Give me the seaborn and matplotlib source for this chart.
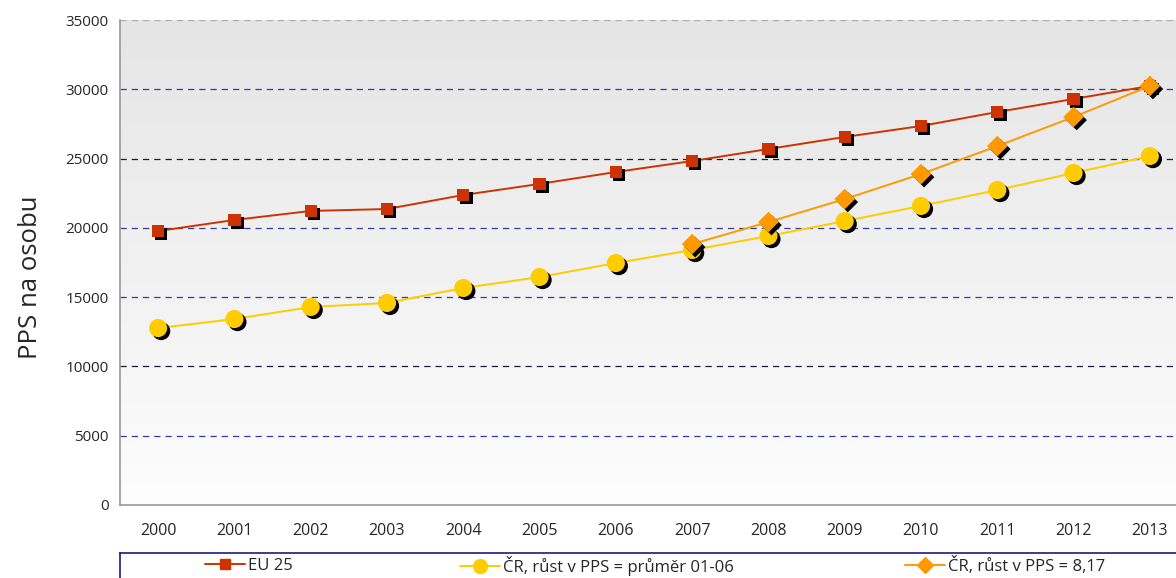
import matplotlib
matplotlib.use("Agg")
import matplotlib.pyplot as plt
import matplotlib.patheffects as pe
from matplotlib.colors import LinearSegmentedColormap
from matplotlib.lines import Line2D
import numpy as np
import pandas as pd
import seaborn as sns

years = [str(y) for y in range(2000, 2014)]
eu25 = [19770, 20570, 21220, 21360, 22370, 23170, 24030, 24820, 25690, 26560, 27350, 28360, 29300, 30240]
cr_avg = [12770, 13420, 14290, 14580, 15660, 16450, 17460, 18400, 19410, 20490, 21580, 22730, 23960, 25180]
cr_817_years = years[7:]
cr_817 = [18830, 20420, 22080, 23880, 25900, 28000, 30240]

labels = ["EU 25", "ČR, růst v PPS = průměr 01-06", "ČR, růst v PPS = 8,17"]
colors = ["#CC3300", "#FFCC00", "#FF9900"]

df_eu = pd.DataFrame({"rok": years, "hodnota": eu25})
df_avg = pd.DataFrame({"rok": years, "hodnota": cr_avg})
df_817 = pd.DataFrame({"rok": cr_817_years, "hodnota": cr_817})

sns.set_style("white")
plt.rcParams["font.family"] = ["Open Sans", "DejaVu Sans"]

fig = plt.figure(figsize=(11.76, 5.78), dpi=100)
ax = fig.add_axes([120 / 1176, 73 / 578, 1068 / 1176, 485 / 578])

# gradient background
cmap = LinearSegmentedColormap.from_list("bg", ["#fdfdfd", "#e5e5e5"])
grad = np.linspace(0, 1, 256).reshape(-1, 1)
ax.imshow(grad, cmap=cmap, origin="lower", aspect="auto",
          extent=[-0.5, 13.5, 0, 35000], zorder=0)

# grid lines
grid_colors = {5000: "#3a3aa0", 10000: "#1a1a40", 15000: "#3a3aa0",
               20000: "#3a3aa0", 25000: "#1a1a40", 30000: "#3a3aa0", 35000: "#aaaaaa"}
for val, c in grid_colors.items():
    ax.axhline(val, color=c, linestyle=(0, (5, 4)), linewidth=0.9, zorder=1)

shadow = [pe.SimplePatchShadow(offset=(2.2, -2.2), shadow_rgbFace="black", alpha=1.0), pe.Normal()]

series = [
    (df_eu, colors[0], "s", 80),
    (df_avg, colors[1], "o", 170),
    (df_817, colors[2], "D", 110),
]
z = 3
for data, c, m, s in series:
    sns.lineplot(data=data, x="rok", y="hodnota", color=c, linewidth=1.4, ax=ax,
                 zorder=z, legend=False)
    sns.scatterplot(data=data, x="rok", y="hodnota", color=c, marker=m, s=s,
                    linewidth=0, ax=ax, zorder=z + 1, legend=False, path_effects=shadow)
    z += 2

ax.set_xlim(-0.5, 13.5)
ax.set_ylim(0, 35000)
ax.set_yticks(range(0, 35001, 5000))
ax.set_yticklabels([str(v) for v in range(0, 35001, 5000)], fontsize=11)
ax.set_xticks(range(len(years)))
ax.set_xticklabels(years, fontsize=11.5)
ax.set_xticks(np.arange(-0.5, 14, 1), minor=True)
ax.tick_params(axis="x", which="major", length=0, pad=13)
ax.tick_params(axis="x", which="minor", length=5, color="#999999", width=1)
ax.tick_params(axis="y", length=5, color="#999999", width=1, pad=3)
ax.set_xlabel("")
ax.set_ylabel("PPS na osobu", fontsize=18.5)
ax.yaxis.set_label_coords(-0.072, 0.47)
for side in ["top", "right"]:
    ax.spines[side].set_visible(False)
for side in ["left", "bottom"]:
    ax.spines[side].set_color("#999999")
    ax.spines[side].set_linewidth(1.2)

# legend box
lax = fig.add_axes([120 / 1176, -0.05, 1.0, 25 / 578 + 0.05])
lax.set_xticks([])
lax.set_yticks([])
lax.patch.set_facecolor("white")
for sp in lax.spines.values():
    sp.set_color("#1a1a80")
    sp.set_linewidth(1.2)

lax.set_xlim(0, 1176)
lax.set_ylim(0, 1)
xs = [85, 340, 785]
markers = ["s", "o", "D"]
msizes = [7, 10, 8]
for i, (x, lab, c, m, ms) in enumerate(zip(xs, labels, colors, markers, msizes)):
    h = Line2D([], [], color=c, marker=m, markersize=ms, linewidth=1.4)
    leg = lax.legend([h], [lab], loc="center left", bbox_to_anchor=(x, 0.76, 0, 0),
                     bbox_transform=lax.transData, frameon=False, fontsize=12,
                     handlelength=2.4, handletextpad=0.2, borderaxespad=0, borderpad=0)
    if i < len(xs) - 1:
        lax.add_artist(leg)

fig.savefig("out.png", dpi=100)
